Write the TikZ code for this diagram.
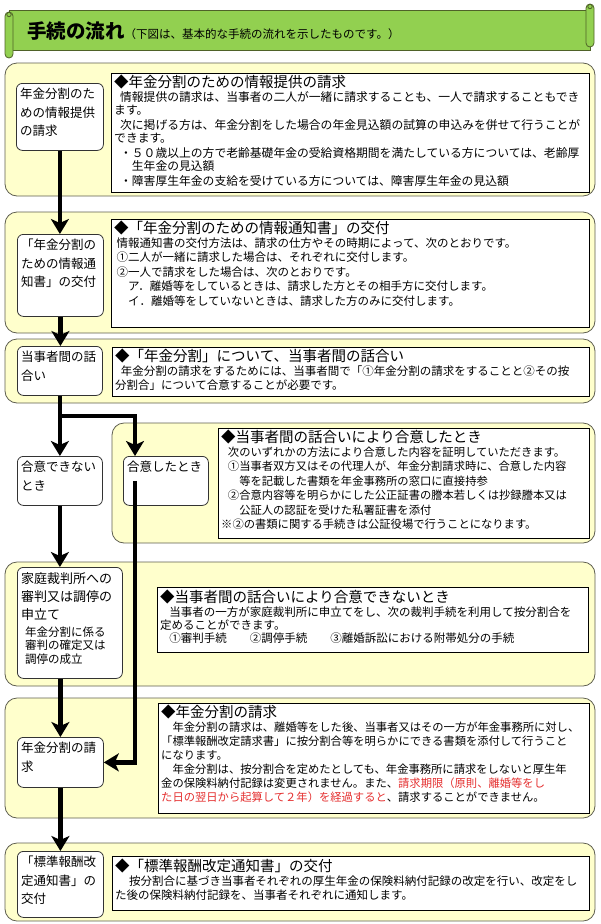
\documentclass[tikz,border=0pt]{standalone}
\usepackage{fontspec}
\setmainfont{Noto Sans CJK JP}
\usetikzlibrary{arrows.meta,positioning}

\definecolor{bannergreen}{HTML}{92D050}
\definecolor{bannerline}{HTML}{4F6228}
\definecolor{panelfill}{HTML}{FFFFCC}
\definecolor{panelline}{HTML}{5F5F50}
\definecolor{warnred}{HTML}{E53030}

\newcommand{\headsize}{\fontsize{14.5}{17}\selectfont}
\newcommand{\bodysize}{\fontsize{11.5}{14}\selectfont}
\newcommand{\nodesize}{\fontsize{12.5}{18.5}\selectfont}

\tikzset{
  banner/.style={draw=bannerline, fill=bannergreen, line width=0.8pt},
  panel/.style={draw=panelline, fill=panelfill, line width=0.8pt, rounded corners=12pt},
  infobox/.style={draw=black, fill=white, line width=0.7pt},
  stepbox/.style={draw=black!80, fill=white, line width=0.8pt, rounded corners=6pt,
    inner sep=0pt, anchor=north west},
  steptext/.style={anchor=north west, align=left, inner xsep=4pt, inner ysep=5pt, font=\nodesize},
  infohead/.style={anchor=north west, inner sep=1pt, font=\headsize},
  infobody/.style={anchor=north west, align=left, inner sep=1pt, font=\bodysize},
  flow/.style={line width=4.5pt, -{Stealth[length=15pt, width=18pt, inset=4pt]}},
}

\begin{document}
\begin{tikzpicture}[x=1pt, y=-1pt]
\useasboundingbox (0,0) rectangle (600,924);

% title banner
\draw[banner] (9,10) rectangle (590,50);
\draw[banner, rounded corners=4pt] (586,4) rectangle (594,47);
\draw[banner] (590,6.5) circle (2.2pt);
\draw[banner, rounded corners=4pt] (5,12) rectangle (13,58);
\draw[banner] (9,14.5) circle (2.2pt);
\node[anchor=base west, inner sep=0pt] (title) at (27,38)
  {{\fontsize{19.5}{20}\selectfont\bfseries 手続の流れ}{\fontsize{11.5}{13}\selectfont（下図は、基本的な手続の流れを示したものです。）}};

% panels
\draw[panel] (5,63) rectangle (595,196);
\draw[panel] (5,212) rectangle (595,333);
\draw[panel] (5,339) rectangle (595,403);
\draw[panel] (112,423) rectangle (595,543);
\draw[panel] (5,562) rectangle (595,686);
\draw[panel] (5,698) rectangle (595,818);
\draw[panel] (5,843) rectangle (595,921);

% text frames
\draw[infobox] (111,73) rectangle (589,192);
\draw[infobox] (111,219) rectangle (589,327);
\draw[infobox] (112,347) rectangle (589,396);
\draw[infobox] (218,428) rectangle (589,538);
\draw[infobox] (157,587) rectangle (588,652);
\draw[infobox] (158,703) rectangle (589,813);
\draw[infobox] (112,856) rectangle (589,910);

% texts in frames
\node[infohead] (head1) at (113,74) {◆年金分割のための情報提供の請求};
\node[infobody, font=\fontsize{11.8}{13}\selectfont] (info1) at (head1.south west)
  {\hspace*{0.5em}情報提供の請求は、当事者の二人が一緒に請求することも、一人で請求することもでき\\
   ます。\\[2pt]
   \hspace*{0.5em}次に掲げる方は、年金分割をした場合の年金見込額の試算の申込みを併せて行うことが\\
   できます。\\[2pt]
   \hspace*{0.5em}・５０歳以上の方で老齢基礎年金の受給資格期間を満たしている方については、老齢厚\\
   \hspace*{1.5em}生年金の見込額\\[2pt]
   \hspace*{0.5em}・障害厚生年金の支給を受けている方については、障害厚生年金の見込額};

\node[infohead] (head2) at (113,220) {◆「年金分割のための情報通知書」の交付};
\node[infobody, font=\fontsize{11.5}{14.5}\selectfont] (info2) at (head2.south west)
  {\hspace*{0.2em}情報通知書の交付方法は、請求の仕方やその時期によって、次のとおりです。\\
   \hspace*{0.2em}①二人が一緒に請求した場合は、それぞれに交付します。\\
   \hspace*{0.2em}②一人で請求をした場合は、次のとおりです。\\
   \hspace*{1.2em}ア．離婚等をしているときは、請求した方とその相手方に交付します。\\
   \hspace*{1.2em}イ．離婚等をしていないときは、請求した方のみに交付します。};

\node[infohead] (head3) at (114,348) {◆「年金分割」について、当事者間の話合い};
\node[infobody] (info3) at (head3.south west)
  {\hspace*{0.5em}年金分割の請求をするためには、当事者間で「①年金分割の請求をすることと②その按\\
   分割合」について合意することが必要です。};

\node[infohead] (head4) at (220,429) {◆当事者間の話合いにより合意したとき};
\node[infobody, font=\fontsize{11.3}{14.5}\selectfont] (info4) at (head4.south west)
  {\hspace*{0.6em}次のいずれかの方法により合意した内容を証明していただきます。\\
   \hspace*{0.6em}①当事者双方又はその代理人が、年金分割請求時に、合意した内容\\
   \hspace*{1.6em}等を記載した書類を年金事務所の窓口に直接持参\\
   \hspace*{0.6em}②合意内容等を明らかにした公正証書の謄本若しくは抄録謄本又は\\
   \hspace*{1.6em}公証人の認証を受けた私署証書を添付\\
   ※②の書類に関する手続きは公証役場で行うことになります。};

\node[infohead] (head5) at (159,589) {◆当事者間の話合いにより合意できないとき};
\node[infobody, font=\fontsize{11.5}{12.8}\selectfont] (info5) at (head5.south west)
  {\hspace*{0.8em}当事者の一方が家庭裁判所に申立てをし、次の裁判手続を利用して按分割合を\\
   定めることができます。\\
   \hspace*{0.8em}①審判手続\hspace{2em}②調停手続\hspace{2em}③離婚訴訟における附帯処分の手続};

\node[infohead] (head6) at (160,704) {◆年金分割の請求};
\node[infobody, font=\fontsize{11.3}{14}\selectfont] (info6) at (head6.south west)
  {\hspace*{1em}年金分割の請求は、離婚等をした後、当事者又はその一方が年金事務所に対し、\\
   「標準報酬改定請求書」に按分割合等を明らかにできる書類を添付して行うこと\\
   になります。\\
   \hspace*{1em}年金分割は、按分割合を定めたとしても、年金事務所に請求をしないと厚生年\\
   金の保険料納付記録は変更されません。また、\textcolor{warnred}{請求期限（原則、離婚等をし}\\
   \textcolor{warnred}{た日の翌日から起算して２年）を経過すると}、請求することができません。};

\node[infohead] (head7) at (114,858) {◆「標準報酬改定通知書」の交付};
\node[infobody] (info7) at (head7.south west)
  {\hspace*{1.2em}按分割合に基づき当事者それぞれの厚生年金の保険料納付記録の改定を行い、改定をし\\
   た後の保険料納付記録を、当事者それぞれに通知します。};

% steps
\node[stepbox, minimum width=87pt, minimum height=67pt] (req) at (16,83) {};
\node[steptext] (reqt) at (req.north west) {年金分割のた\\めの情報提供\\の請求};

\node[stepbox, minimum width=86pt, minimum height=82pt] (notice) at (17,234) {};
\node[steptext] (noticet) at (notice.north west) {「年金分割の\\ための情報通\\知書」の交付};

\node[stepbox, minimum width=85pt, minimum height=49pt] (talk) at (17,346) {};
\node[steptext] (talkt) at (talk.north west) {当事者間の話\\合い};

\node[stepbox, minimum width=85pt, minimum height=49pt] (nogo) at (17,456) {};
\node[steptext] (nogot) at (nogo.north west) {合意できない\\とき};

\node[stepbox, minimum width=85pt, minimum height=49pt] (agree) at (123,456) {};
\node[steptext] (agreet) at (agree.north west) {合意したとき};

\node[stepbox, minimum width=105pt, minimum height=111pt] (court) at (17,567) {};
\node[steptext, font=\fontsize{13}{18}\selectfont] (courtt) at (court.north west)
  {家庭裁判所への\\審判又は調停の\\申立て};
\node[steptext, font=\fontsize{11.5}{13.5}\selectfont, inner ysep=1pt] (courtsub)
  at ([xshift=4pt]courtt.south west) {年金分割に係る\\審判の確定又は\\調停の成立};

\node[stepbox, minimum width=86pt, minimum height=50pt] (claim) at (17,737) {};
\node[steptext] (claimt) at (claim.north west) {年金分割の請\\求};

\node[stepbox, minimum width=86pt, minimum height=66pt] (notify) at (17,851) {};
\node[steptext] (notifyt) at (notify.north west) {「標準報酬改\\定通知書」の\\交付};

% connectors
\draw[flow] (req.south) -- (req.south |- notice.north);
\draw[flow] (notice.south) -- (notice.south |- talk.north);
\draw[flow] (talk.south) -- (nogo.north);
\draw[flow] ([yshift=-20pt]talk.south) -| ([xshift=12pt]agree.north west);
\draw[flow] (nogo.south) -- (nogo.south |- court.north);
\draw[flow] ([xshift=12pt]agree.west) |- (claim.east);
\draw[flow] (court.south -| claim.north) -- (claim.north);
\draw[flow] (claim.south) -- (notify.north);
\end{tikzpicture}
\end{document}
